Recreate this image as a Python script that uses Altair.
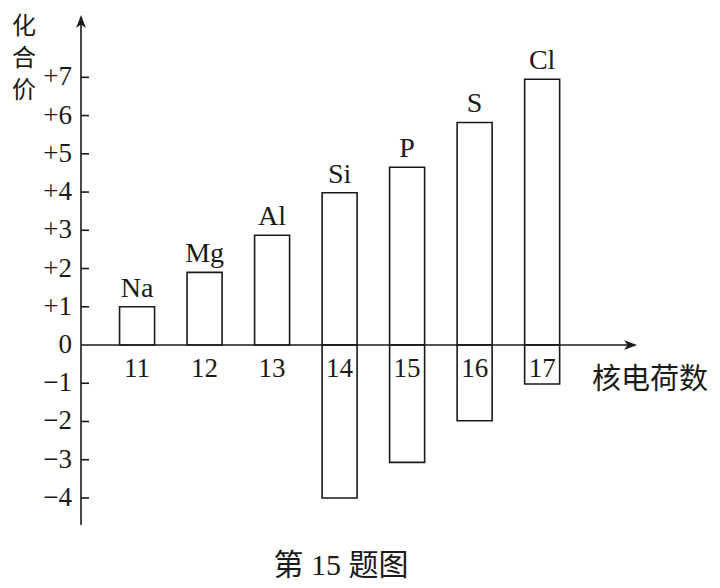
import altair as alt
import pandas as pd

# ---- data ----
nuclear_charge = [11, 12, 13, 14, 15, 16, 17]
elements = ["Na", "Mg", "Al", "Si", "P", "S", "Cl"]
highest_valence = [1, 1.9, 2.87, 3.98, 4.65, 5.82, 6.95]
lowest_valence = [0, 0, 0, -4.0, -3.07, -1.98, -1.02]

tick_values = [-4, -3, -2, -1, 0, 1, 2, 3, 4, 5, 6, 7]
tick_labels = ["−4", "−3", "−2", "−1", "0", "+1", "+2", "+3", "+4", "+5", "+6", "+7"]

y_title = ["化", "合", "价"]
x_title = "核电荷数"
fig_caption = "第 15 题图"

# ---- styling ----
INK = "#1a1a1a"
LATIN = "Liberation Serif, Noto Sans CJK SC"
CJK = "Noto Sans CJK SC"
W, H = 556, 510

x_scale = alt.Scale(domain=[10.2436, 18.3309], nice=False, zero=False)
y_scale = alt.Scale(domain=[-4.707, 8.630], nice=False, zero=False)

bars = pd.DataFrame({
    "z": nuclear_charge,
    "el": elements,
    "hi": highest_valence,
    "lo": lowest_valence,
})
bars["zlab"] = bars["z"].astype(str)
bars["zero"] = 0
ticks = pd.DataFrame({"v": tick_values, "lab": tick_labels})
origin = pd.DataFrame({"zero": [0]})

X = alt.X("z:Q", scale=x_scale, axis=None)

base_bars = alt.Chart(bars)

pos_bars = base_bars.mark_bar(size=35, fill="white", stroke=INK, strokeWidth=1.6).encode(
    x=X,
    y=alt.Y("hi:Q", scale=y_scale, axis=None),
    y2="zero:Q",
)
neg_bars = base_bars.transform_filter("datum.lo < 0").mark_bar(
    size=35, fill="white", stroke=INK, strokeWidth=1.6
).encode(
    x=X,
    y=alt.Y("lo:Q", scale=y_scale, axis=None),
    y2="zero:Q",
)

zero_line = alt.Chart(origin).mark_rule(color=INK, strokeWidth=1.6).encode(
    y=alt.Y("zero:Q", scale=y_scale, axis=None),
    x=alt.value(0),
    x2=alt.value(W - 6),
)
y_line = alt.Chart(origin).mark_rule(color=INK, strokeWidth=1.6).encode(
    x=alt.value(0),
    y=alt.value(6),
    y2=alt.value(H),
)
x_arrow = alt.Chart(origin).mark_point(
    shape="M1,0 L-1,-0.75 L-0.45,0 L-1,0.75 Z", size=169, filled=True, color=INK, opacity=1
).encode(
    x=alt.value(W - 6.5),
    y=alt.Y("zero:Q", scale=y_scale, axis=None),
)
y_arrow = alt.Chart(origin).mark_point(
    shape="M0,-1 L-0.75,1 L0,0.45 L0.75,1 Z", size=169, filled=True, color=INK, opacity=1
).encode(
    x=alt.value(0),
    y=alt.value(6.5),
)

tick_marks = alt.Chart(ticks).transform_filter("datum.v != 0").mark_rule(
    color=INK, strokeWidth=1.6
).encode(
    y=alt.Y("v:Q", scale=y_scale, axis=None),
    x=alt.value(0),
    x2=alt.value(8),
)
tick_text = alt.Chart(ticks).mark_text(
    align="right", baseline="middle", font=LATIN, fontSize=27, color=INK
).encode(
    y=alt.Y("v:Q", scale=y_scale, axis=None),
    x=alt.value(-9),
    text="lab:N",
)

x_text = base_bars.mark_text(
    align="center", baseline="alphabetic", dy=32, font=LATIN, fontSize=27, color=INK
).encode(
    x=X,
    y=alt.Y("zero:Q", scale=y_scale, axis=None),
    text="zlab:N",
)
el_text = base_bars.mark_text(
    align="center", baseline="alphabetic", dy=-10, font=LATIN, fontSize=28, color=INK
).encode(
    x=X,
    y=alt.Y("hi:Q", scale=y_scale, axis=None),
    text="el:N",
)

y_title_marks = [
    alt.Chart(origin).mark_text(
        align="center", baseline="middle", font=CJK, fontSize=24, color=INK
    ).encode(x=alt.value(-57), y=alt.value(12 + 32 * i), text=alt.value(ch))
    for i, ch in enumerate(y_title)
]
x_title_mark = alt.Chart(origin).mark_text(
    align="center", baseline="middle", font=CJK, fontSize=29, color=INK
).encode(x=alt.value(569), y=alt.value(365), text=alt.value(x_title))
caption_mark = alt.Chart(origin).mark_text(
    align="center", baseline="middle", font=LATIN, fontSize=30, color=INK
).encode(x=alt.value(260), y=alt.value(551), text=alt.value(fig_caption))

chart = alt.layer(
    pos_bars, neg_bars, zero_line, y_line, x_arrow, y_arrow,
    tick_marks, tick_text, x_text, el_text,
    *y_title_marks, x_title_mark, caption_mark,
).properties(
    width=W, height=H,
    autosize=alt.AutoSizeParams(type="none"),
    padding={"left": 73, "top": 7, "right": 75, "bottom": 58},
    background="white",
).configure_view(stroke=None)

chart.save("out.html", embed_options={"renderer": "svg", "actions": False})
